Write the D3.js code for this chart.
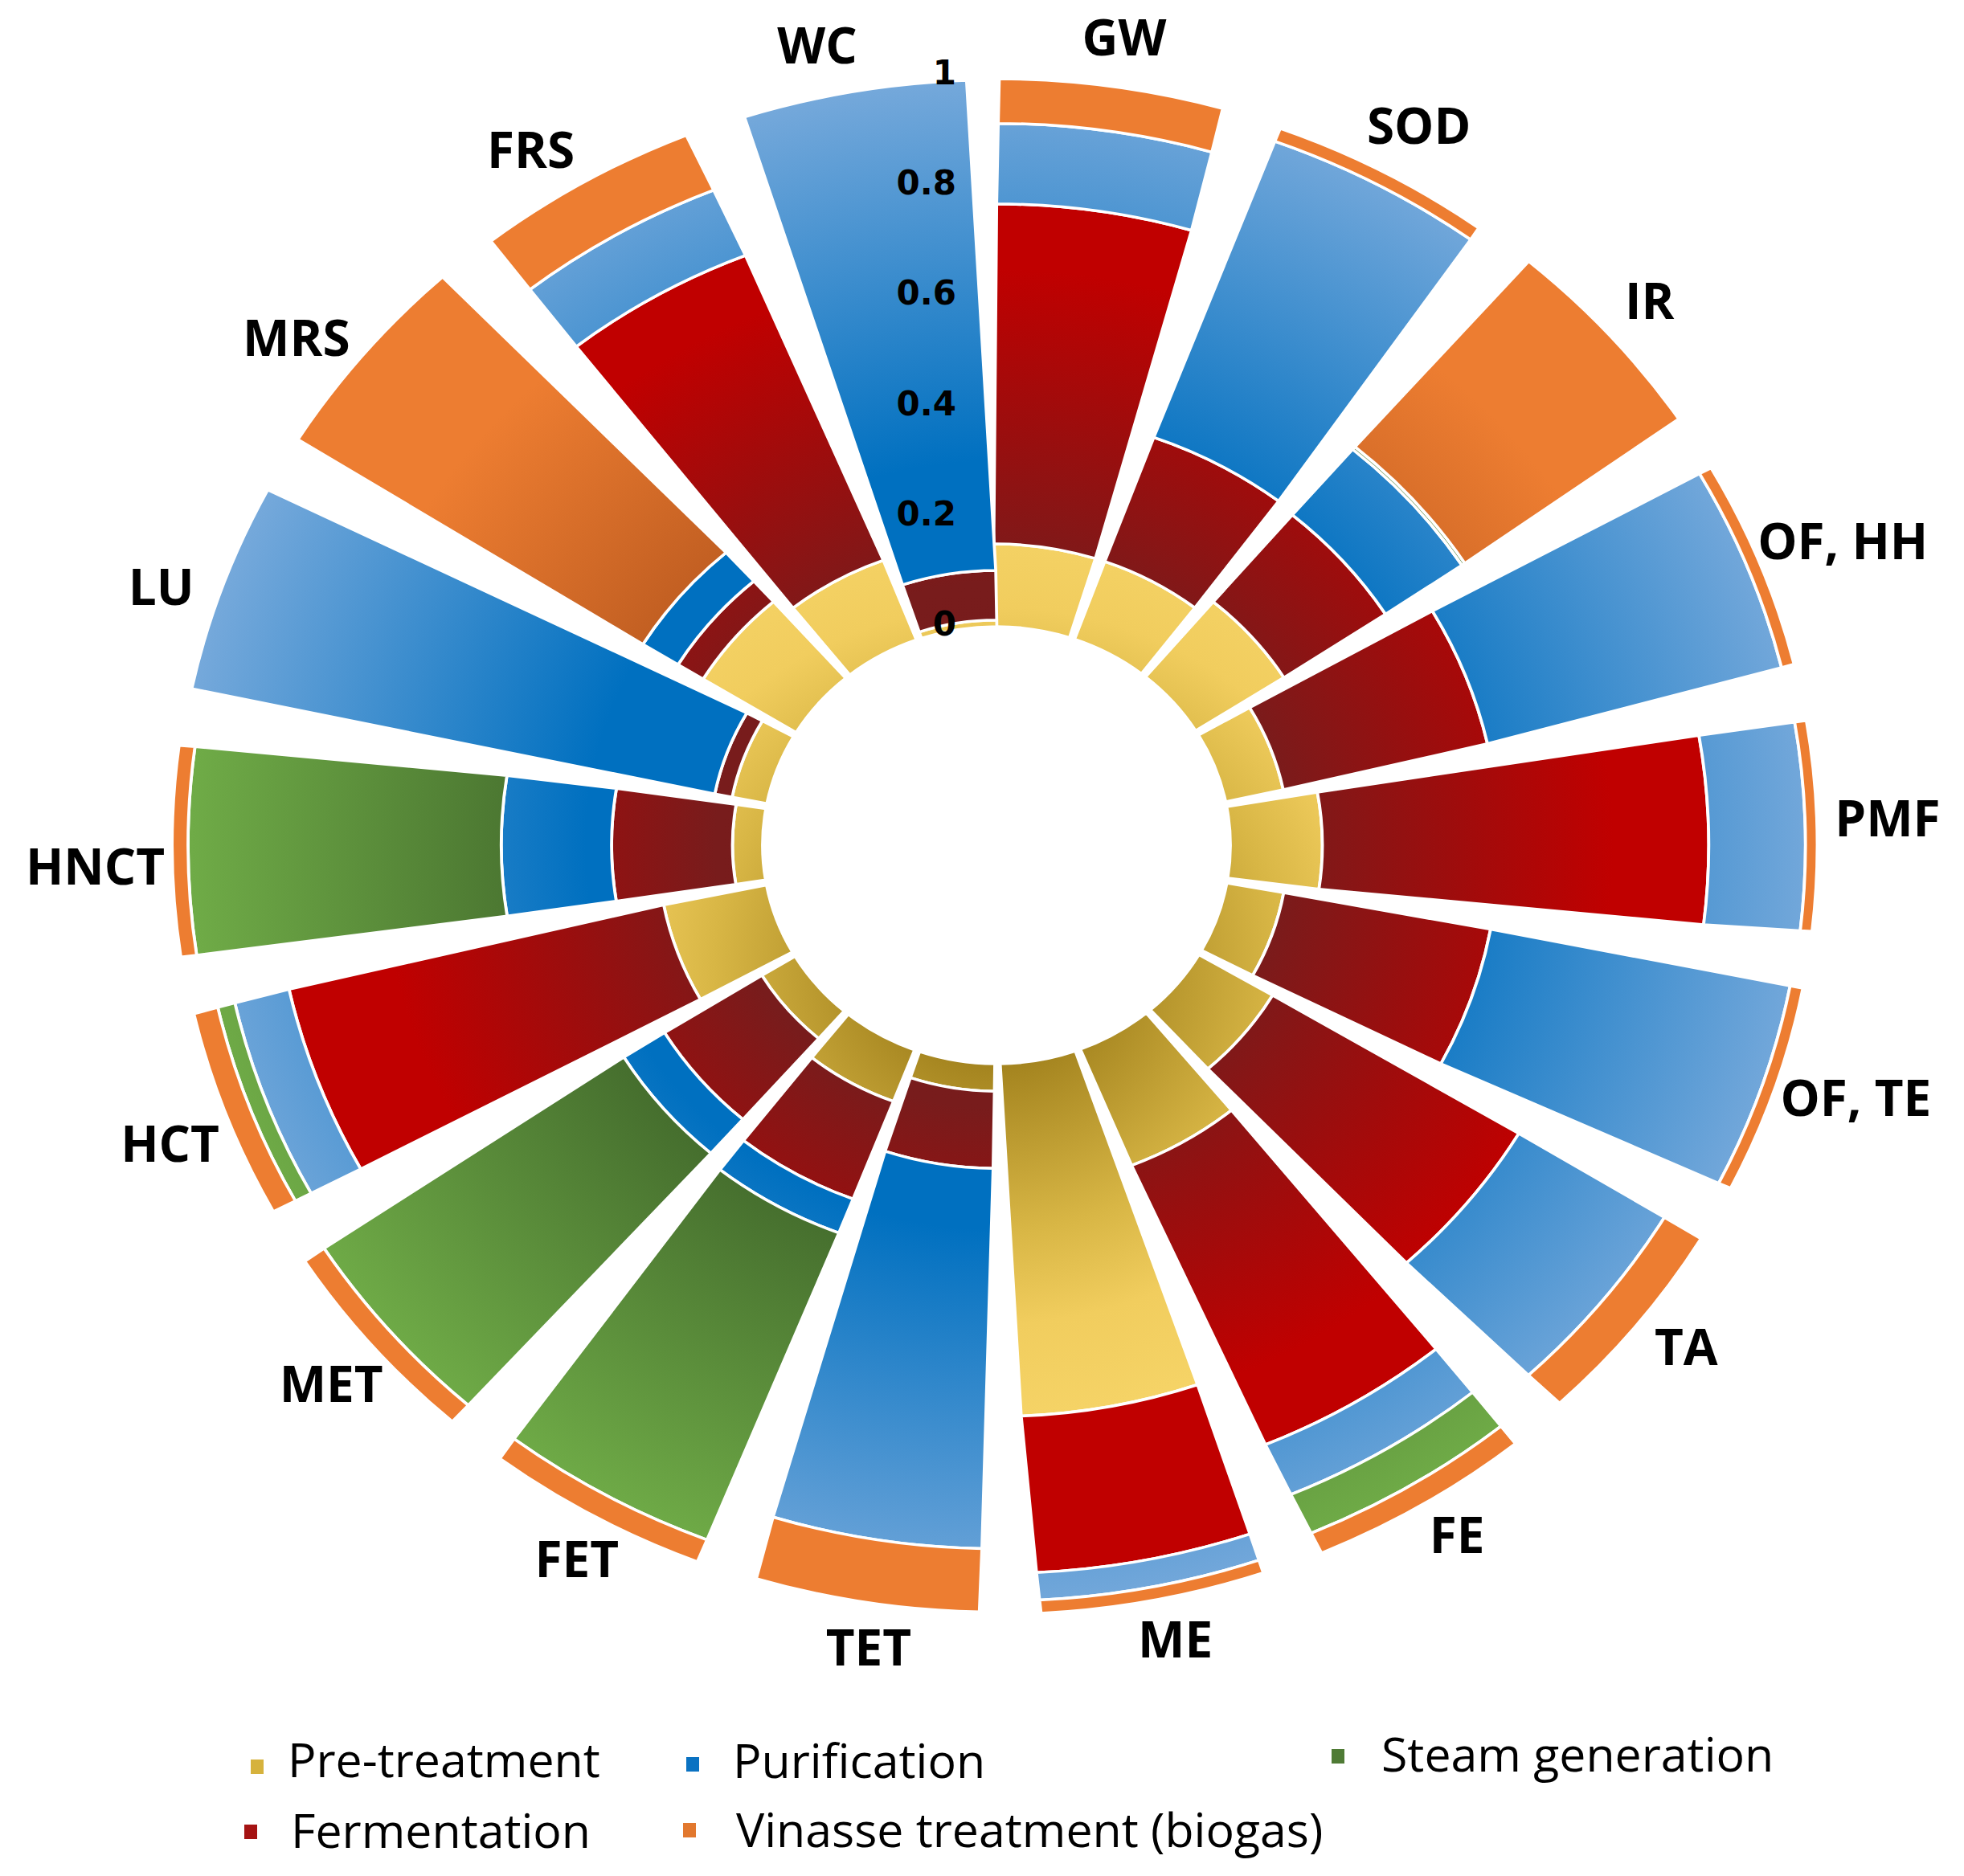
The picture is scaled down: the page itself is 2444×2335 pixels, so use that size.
<!DOCTYPE html>
<html><head><meta charset="utf-8">
<script src="https://cdn.jsdelivr.net/npm/d3@7"></script>
<style>body{margin:0;background:#fff;} svg{display:block}</style>
</head><body>
<svg id="c" width="2444" height="2335"></svg>
<script>
// ---------------- DATA ----------------
const categories = ["GW","SOD","IR","OF, HH","PMF","OF, TE","TA","FE","ME","TET","FET","MET","HCT","HNCT","LU","MRS","FRS","WC"];
const preTreatment    = [0.150,0.150,0.178,0.100,0.156,0.098,0.145,0.228,0.640,0.050,0.100,0.066,0.178,0.051,0.060,0.185,0.155,0.012];
const fermentation    = [0.617,0.240,0.207,0.356,0.655,0.357,0.487,0.555,0.285,0.140,0.190,0.195,0.653,0.205,0.030,0.050,0.600,0.090];
const purification    = [0.146,0.575,0.157,0.517,0.164,0.518,0.290,0.100,0.050,0.690,0.066,0.082,0.095,0.187,0.907,0.070,0.130,0.890];
const steamGeneration = [0.000,0.000,0.006,0.000,0.000,0.000,0.000,0.078,0.000,0.000,0.600,0.615,0.030,0.531,0.000,0.000,0.000,0.000];
const vinasseTreatment= [0.081,0.025,0.447,0.022,0.020,0.022,0.073,0.040,0.024,0.115,0.043,0.040,0.042,0.027,0.000,0.693,0.110,0.000];
const seriesNames = ["Pre-treatment","Fermentation","Purification","Steam generation","Vinasse treatment (biogas)"];
const tickValues = [0,0.2,0.4,0.6,0.8,1];
const tickLabels = ["0","0.2","0.4","0.6","0.8","1"];

// ---------------- LAYOUT ----------------
const cx = 1240, cy = 1052, stretchX = 1.07;
const deg = Math.PI/180;
const r = d3.scaleLinear().domain([0,1]).range([272,958]);
const ang = d3.scaleBand().domain(categories).range([0, 362*deg]);      // bars
const labAng = d3.scaleBand().domain(categories).range([0, 360*deg]);   // labels
const svg = d3.select("#c");
const defs = svg.append("defs");

const keys = ["pre","fer","pur","ste","vin"];
const table = categories.map((c,i)=>({cat:c, pre:preTreatment[i], fer:fermentation[i], pur:purification[i], ste:steamGeneration[i], vin:vinasseTreatment[i]}));
const stacked = d3.stack().keys(keys)(table);

// radial gradients (user space, centred on chart)
const R1 = r(1);
function radGrad(id, stops, gcy, gr){
  const g = defs.append("radialGradient").attr("id",id).attr("gradientUnits","userSpaceOnUse")
    .attr("cx",0).attr("cy",gcy).attr("r",gr).attr("fx",0).attr("fy",gcy);
  stops.forEach(s=>g.append("stop").attr("offset",s[0]).attr("stop-color",s[1]));
}
radGrad("g-pre", [[0,"#9c7e1c"],[0.2,"#a4841f"],[0.53,"#d8b645"],[0.72,"#f1cd5e"],[1,"#f7d66a"]], 150, 620);
radGrad("g-fer", [[0,"#761b1b"],[r(0.08)/R1,"#781c1c"],[r(0.35)/R1,"#9a0e0e"],[r(0.65)/R1,"#c00000"],[1,"#c00000"]], 0, R1);
radGrad("g-pur", [[0,"#0070c0"],[r(0.3)/R1,"#0070c0"],[1,"#76a9db"]], 0, R1);
radGrad("g-ste", [[0,"#466f2e"],[r(0.35)/R1,"#466f2e"],[1,"#71ae48"]], 0, R1);
radGrad("g-vin", [[0,"#c05e22"],[r(0.3)/R1,"#c25f22"],[r(0.75)/R1,"#ed7d31"],[1,"#ed7d31"]], 0, R1);
const legendColors = {pre:"#d6b23c", fer:"#a51313", pur:"#0a72c2", ste:"#4f7b35", vin:"#e2782e"};

// bar edges: angle offsets (deg) at inner and outer radius
const startIn = -0.6, startOut = 0.2, endIn = 18.2, endOut = 16.0;
function lerp(a,b,t){return a+(b-a)*t;}
function tr(rr){return (rr - r(0))/(r(1)-r(0));}
function segPath(base, ra, rb){
  const s = rr => base + lerp(startIn,startOut,tr(rr))*deg - Math.PI/2;
  const e = rr => base + lerp(endIn,endOut,tr(rr))*deg - Math.PI/2;
  const a0=s(ra), a1=e(ra), b0=s(rb), b1=e(rb);
  const p = d3.path();
  p.moveTo(ra*Math.cos(a0), ra*Math.sin(a0));
  p.arc(0,0,ra,a0,a1,false);
  p.lineTo(rb*Math.cos(b1), rb*Math.sin(b1));
  p.arc(0,0,rb,b1,b0,true);
  p.closePath();
  return p.toString();
}

const chart = svg.append("g").attr("transform",`translate(${cx},${cy}) scale(${stretchX},1)`);
stacked.forEach(layer=>{
  const key = layer.key;
  chart.append("g").selectAll("path")
    .data(layer.filter(d=>d[1]-d[0] > 0.0005))
    .join("path")
    .attr("d", d=>segPath(ang(d.data.cat), r(d[0]), r(d[1])))
    .attr("fill", `url(#g-${key})`)
    .attr("stroke","#fff").attr("stroke-width",3.5).attr("stroke-linejoin","round");
});

// radial axis tick labels
const axisG = svg.append("g");
axisG.selectAll("text").data(tickValues).join("text")
  .attr("x", cx - 50)
  .attr("y", v => cy - r(v) + 11)
  .attr("text-anchor","end")
  .attr("font-family","DejaVu Sans, Verdana, sans-serif")
  .attr("font-weight","bold").attr("font-size",42).attr("fill","#000")
  .text((v,i)=>tickLabels[i]);

// category labels
const labG = svg.append("g");
categories.forEach((c,i)=>{
  const th = labAng(c) + 8.3*deg;
  const R = 1000;
  const t = labG.append("text").text(c)
    .attr("text-anchor","middle")
    .attr("font-family","'Open Sans', sans-serif")
    .attr("font-weight","bold").attr("font-size",62).attr("fill","#000");
  const w = t.node().getComputedTextLength();
  const x = cx + stretchX*R*Math.sin(th) + Math.sin(th)*w*0.3;
  const y = cy - R*Math.cos(th) - Math.cos(th)*13 + 19;
  t.attr("x",x).attr("y",y);
});

// legend
const legendItems = [
  {key:"pre", name:seriesNames[0], mx:320, my:2199, tx:358, ty:2212},
  {key:"pur", name:seriesNames[2], mx:862, my:2196, tx:912, ty:2213},
  {key:"ste", name:seriesNames[3], mx:1665, my:2186, tx:1719, ty:2205},
  {key:"fer", name:seriesNames[1], mx:312, my:2280, tx:362, ty:2300},
  {key:"vin", name:seriesNames[4], mx:858, my:2278, tx:916, ty:2299}
];
const lg = svg.append("g");
legendItems.forEach(it=>{
  lg.append("rect").attr("x",it.mx-8).attr("y",it.my-9).attr("width",16).attr("height",18)
    .attr("fill",legendColors[it.key]);
  lg.append("text").attr("x",it.tx).attr("y",it.ty).text(it.name)
    .attr("font-family","'Open Sans', sans-serif").attr("font-size",59).attr("fill","#000");
});
</script>
</body></html>
